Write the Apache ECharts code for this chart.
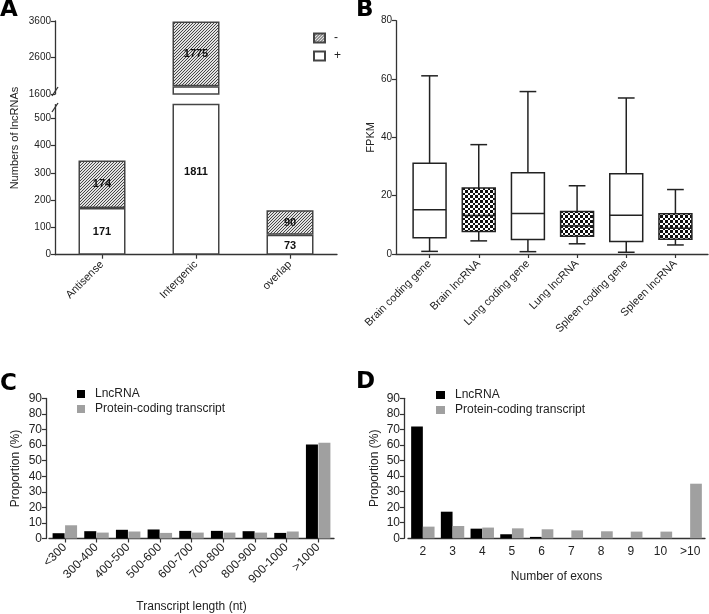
<!DOCTYPE html>
<html><head><meta charset="utf-8">
<script src="https://cdn.jsdelivr.net/npm/echarts@6/dist/echarts.min.js"></script>
<style>html,body{margin:0;padding:0;background:#fff}#c{width:709px;height:614px}</style>
</head><body><div id="c"></div>
<script>
// ---------- Panel A ----------
const aCategories = ['Antisense', 'Intergenic', 'overlap'];
const aPlus = [171, 1811, 73];
const aMinus = [174, 1775, 90];
const aUpperTicks = [1600, 2600, 3600];
const aLowerTicks = [0, 100, 200, 300, 400, 500];
// ---------- Panel B ----------
const bCategories = ['Brain coding gene', 'Brain lncRNA', 'Lung coding gene', 'Lung lncRNA', 'Spleen coding gene', 'Spleen lncRNA'];
const bMin = [0.9, 4.5, 0.8, 3.5, 0.6, 3.1];
const bQ1 = [5.6, 7.7, 5.0, 6.1, 4.3, 5.1];
const bMedian = [15.2, 13.2, 13.9, 9.6, 13.3, 8.8];
const bQ3 = [31.1, 22.6, 27.9, 14.6, 27.5, 13.8];
const bMax = [61.1, 37.5, 55.7, 23.4, 53.5, 22.1];
const bIsLnc = [0, 1, 0, 1, 0, 1];
// ---------- Panel C ----------
const cCategories = ['<300', '300-400', '400-500', '500-600', '600-700', '700-800', '800-900', '900-1000', '>1000'];
const cLnc = [3.4, 4.7, 5.6, 5.8, 4.9, 4.9, 4.7, 3.6, 60.5];
const cCoding = [8.5, 3.8, 4.5, 3.6, 3.8, 3.8, 3.8, 4.5, 61.5];
// ---------- Panel D ----------
const dCategories = ['2', '3', '4', '5', '6', '7', '8', '9', '10', '>10'];
const dLnc = [71.8, 17.1, 6.2, 2.6, 0.9, 0, 0, 0, 0, 0];
const dCoding = [7.5, 7.9, 6.9, 6.4, 5.8, 5.1, 4.5, 4.3, 4.3, 35.1];

const FONT = 'Liberation Sans, Arial, Helvetica, sans-serif';
const AX = '#333';
const TXT = '#222';

function hatchCanvas() {
  const c = document.createElement('canvas'); c.width = 3; c.height = 3;
  const g = c.getContext('2d');
  for (let x = 0; x < 3; x++) for (let y = 0; y < 3; y++) {
    g.fillStyle = ((x + y) % 3 === 2) ? '#474747' : '#e2e2e2';
    g.fillRect(x, y, 1, 1);
  }
  return c;
}
function checkerCanvas() {
  const c = document.createElement('canvas'); c.width = 10; c.height = 10;
  const g = c.getContext('2d');
  g.fillStyle = '#fff'; g.fillRect(0, 0, 10, 10);
  const edges = [0, 3, 5, 8, 10];
  for (let i = 0; i < 4; i++) for (let j = 0; j < 4; j++) {
    if ((i + j) % 2 === 0) {
      g.fillStyle = '#111';
      g.fillRect(edges[i], edges[j], edges[i + 1] - edges[i], edges[j + 1] - edges[j]);
    }
  }
  return c;
}
const hatch = { image: hatchCanvas(), repeat: 'repeat' };
const checker = { image: checkerCanvas(), repeat: 'repeat' };

const chart = echarts.init(document.getElementById('c'), null, { renderer: 'canvas' });

const plain = v => String(v);

function catAxis(gridIndex, data, extra) {
  return Object.assign({
    type: 'category', gridIndex, data,
    axisLine: { show: true, lineStyle: { color: AX, width: 1.3 } },
    axisTick: { show: true, alignWithLabel: true, length: 4, lineStyle: { color: AX, width: 1.2 } },
    axisLabel: { color: TXT, fontFamily: FONT, fontSize: 11 },
    splitLine: { show: false }
  }, extra || {});
}
function valAxis(gridIndex, extra) {
  return Object.assign({
    type: 'value', gridIndex,
    axisLine: { show: true, lineStyle: { color: AX, width: 1.3 } },
    axisTick: { show: true, length: 4, lineStyle: { color: AX, width: 1.2 } },
    axisLabel: { color: TXT, fontFamily: FONT, fontSize: 12, margin: 4, formatter: plain },
    splitLine: { show: false }
  }, extra || {});
}

const barBorder = { borderColor: '#444', borderWidth: 1.5 };
const aLabel = { show: true, position: 'inside', color: '#111', fontFamily: FONT, fontWeight: 'bold', fontSize: 11 };

const bData = bCategories.map((c, i) => [i, bMin[i], bQ1[i], bMedian[i], bQ3[i], bMax[i], bIsLnc[i]]);

const LETTER = 'bold 23px DejaVu Sans, ' + FONT;

const option = {
  animation: false,
  textStyle: { fontFamily: FONT },
  grid: [
    { left: 55, top: 21, width: 282, height: 73 },
    { left: 55, top: 104.6, width: 282, height: 150.1 },
    { left: 405, top: 20.7, width: 295, height: 233.3 },
    { left: 396, top: 20.7, width: 312, height: 233.3 },
    { left: 49, top: 398.5, width: 285, height: 140 },
    { left: 408, top: 398.3, width: 297, height: 140 }
  ],
  xAxis: [
    catAxis(0, aCategories, { axisLine: { show: false }, axisTick: { show: false }, axisLabel: { show: false } }),
    catAxis(1, aCategories, { axisLabel: { color: TXT, fontFamily: FONT, fontSize: 11, rotate: 45, margin: 8 } }),
    catAxis(2, bCategories, { axisLine: { show: false }, axisLabel: { color: TXT, fontFamily: FONT, fontSize: 11, rotate: 45, margin: 8 } }),
    { type: 'value', gridIndex: 3, min: 0, max: 1, axisLine: { show: true, lineStyle: { color: AX, width: 1.3 } }, axisTick: { show: false }, axisLabel: { show: false }, splitLine: { show: false } },
    catAxis(4, cCategories, {
      axisLabel: { color: TXT, fontFamily: FONT, fontSize: 12, rotate: 45, margin: 7 },
      name: 'Transcript length (nt)', nameLocation: 'middle', nameGap: 62,
      nameTextStyle: { color: TXT, fontFamily: FONT, fontSize: 12 }
    }),
    catAxis(5, dCategories, {
      axisTick: { show: false },
      axisLabel: { color: TXT, fontFamily: FONT, fontSize: 12, margin: 7 },
      name: 'Number of exons', nameLocation: 'middle', nameGap: 32,
      nameTextStyle: { color: TXT, fontFamily: FONT, fontSize: 12 }
    })
  ],
  yAxis: [
    valAxis(0, { min: aUpperTicks[0], max: aUpperTicks[aUpperTicks.length - 1], interval: 1000,
      axisLabel: { color: TXT, fontFamily: FONT, fontSize: 10, margin: 4, formatter: plain } }),
    valAxis(1, { min: 0, max: 550,
      axisTick: { show: true, length: 4, lineStyle: { color: AX, width: 1.2 }, customValues: aLowerTicks },
      axisLabel: { color: TXT, fontFamily: FONT, fontSize: 10, margin: 4, customValues: aLowerTicks, formatter: plain } }),
    valAxis(2, { min: 0, max: 80, interval: 20, offset: 9,
      axisLabel: { color: TXT, fontFamily: FONT, fontSize: 10, margin: 4, formatter: plain },
      name: 'FPKM', nameLocation: 'middle', nameGap: 20,
      nameTextStyle: { color: TXT, fontFamily: FONT, fontSize: 11 } }),
    { type: 'value', gridIndex: 3, show: false },
    valAxis(4, { min: 0, max: 90, interval: 10, offset: 3,
      name: 'Proportion (%)', nameLocation: 'middle', nameGap: 24,
      nameTextStyle: { color: TXT, fontFamily: FONT, fontSize: 12 } }),
    valAxis(5, { min: 0, max: 90, interval: 10, offset: 4,
      name: 'Proportion (%)', nameLocation: 'middle', nameGap: 23,
      nameTextStyle: { color: TXT, fontFamily: FONT, fontSize: 12 } })
  ],
  legend: [
    { data: ['-', '+'], orient: 'vertical', left: 308, top: 27, icon: 'rect', itemWidth: 11, itemHeight: 9, itemGap: 6,
      textStyle: { color: TXT, fontFamily: FONT, fontSize: 12, padding: [0, 0, 0, 4] }, selectedMode: false },
    { data: ['LncRNA', 'Protein-coding transcript'], orient: 'vertical', left: 72, top: 383, icon: 'rect', itemWidth: 8, itemHeight: 8, itemGap: 3,
      textStyle: { color: TXT, fontFamily: FONT, fontSize: 12, padding: [0, 0, 0, 5] }, selectedMode: false },
    { data: ['LncRNA', 'Protein-coding transcript'], orient: 'vertical', left: 431, top: 384, icon: 'rect', itemWidth: 9, itemHeight: 8, itemGap: 3,
      textStyle: { color: TXT, fontFamily: FONT, fontSize: 12, padding: [0, 0, 0, 5] }, selectedMode: false }
  ],
  graphic: [
    { type: 'text', x: 0, y: -1, style: { text: 'A', font: LETTER, fill: '#000', textVerticalAlign: 'top' } },
    { type: 'text', x: 356, y: -1, style: { text: 'B', font: LETTER, fill: '#000', textVerticalAlign: 'top' } },
    { type: 'text', x: 0, y: 373, style: { text: 'C', font: LETTER, fill: '#000', textVerticalAlign: 'top' } },
    { type: 'text', x: 356, y: 371, style: { text: 'D', font: LETTER, fill: '#000', textVerticalAlign: 'top' } },
    { type: 'text', x: 15, y: 138, rotation: Math.PI / 2,
      style: { text: 'Numbers of lncRNAs', font: '11px ' + FONT, fill: TXT, textAlign: 'center', textVerticalAlign: 'middle' } },
    { type: 'line', shape: { x1: 52, y1: 96, x2: 58, y2: 87 }, style: { stroke: AX, lineWidth: 1.3 } },
    { type: 'line', shape: { x1: 52, y1: 112, x2: 58, y2: 103 }, style: { stroke: AX, lineWidth: 1.3 } }
  ],
  series: [
    // Panel A upper (broken axis top)
    { name: '+', type: 'bar', xAxisIndex: 0, yAxisIndex: 0, stack: 'up', barWidth: '50%', clip: true,
      data: aPlus, itemStyle: Object.assign({ color: '#fff' }, barBorder), label: { show: false } },
    { name: '-', type: 'bar', xAxisIndex: 0, yAxisIndex: 0, stack: 'up', barWidth: '50%', clip: true,
      data: aMinus.map((v, i) => ({ value: v, label: { show: i === 1 } })),
      itemStyle: Object.assign({ color: hatch }, barBorder), label: aLabel },
    // Panel A lower
    { name: '+', type: 'bar', xAxisIndex: 1, yAxisIndex: 1, stack: 'low', barWidth: '50%', clip: true,
      data: aPlus.map((v, i) => ({ value: v, label: { offset: i === 1 ? [0, -7] : [0, 1] } })),
      itemStyle: Object.assign({ color: '#fff' }, barBorder), label: aLabel },
    { name: '-', type: 'bar', xAxisIndex: 1, yAxisIndex: 1, stack: 'low', barWidth: '50%', clip: true,
      data: aMinus.map((v, i) => ({ value: v, label: { show: i !== 1 } })),
      itemStyle: Object.assign({ color: hatch }, barBorder), label: aLabel },
    // Panel B
    { type: 'custom', xAxisIndex: 2, yAxisIndex: 2, data: bData,
      encode: { x: 0, y: [1, 2, 3, 4, 5] },
      renderItem: function (params, api) {
        const i = api.value(0);
        const bw = api.size([1, 0])[0];
        const boxW = bw * 0.67, capW = bw * 0.34;
        const x = api.coord([i, 0])[0];
        const yy = v => api.coord([i, v])[1];
        const yMin = yy(api.value(1)), yQ1 = yy(api.value(2)), yMed = yy(api.value(3)), yQ3 = yy(api.value(4)), yMax = yy(api.value(5));
        const lnc = api.value(6) === 1;
        const ls = { stroke: '#222', lineWidth: 1.5 };
        return { type: 'group', children: [
          { type: 'line', shape: { x1: x, y1: yQ3, x2: x, y2: yMax }, style: ls },
          { type: 'line', shape: { x1: x, y1: yQ1, x2: x, y2: yMin }, style: ls },
          { type: 'line', shape: { x1: x - capW / 2, y1: yMax, x2: x + capW / 2, y2: yMax }, style: ls },
          { type: 'line', shape: { x1: x - capW / 2, y1: yMin, x2: x + capW / 2, y2: yMin }, style: ls },
          { type: 'rect', shape: { x: x - boxW / 2, y: yQ3, width: boxW, height: yQ1 - yQ3 },
            style: { fill: lnc ? checker : '#fff', stroke: '#222', lineWidth: 1.5 } },
          { type: 'line', shape: { x1: x - boxW / 2, y1: yMed, x2: x + boxW / 2, y2: yMed }, style: ls }
        ] };
      }
    },
    // Panel C
    { name: 'LncRNA', type: 'bar', xAxisIndex: 4, yAxisIndex: 4, data: cLnc, barWidth: 12, barGap: '4%', itemStyle: { color: '#000' } },
    { name: 'Protein-coding transcript', type: 'bar', xAxisIndex: 4, yAxisIndex: 4, data: cCoding, barWidth: 12, barGap: '4%', itemStyle: { color: '#a0a0a0' } },
    // Panel D
    { name: 'LncRNA', type: 'bar', xAxisIndex: 5, yAxisIndex: 5, data: dLnc, barWidth: 11.7, barGap: '0%', itemStyle: { color: '#000' } },
    { name: 'Protein-coding transcript', type: 'bar', xAxisIndex: 5, yAxisIndex: 5, data: dCoding, barWidth: 11.7, barGap: '0%', itemStyle: { color: '#a0a0a0' } }
  ]
};
chart.setOption(option);
</script>
</body></html>
